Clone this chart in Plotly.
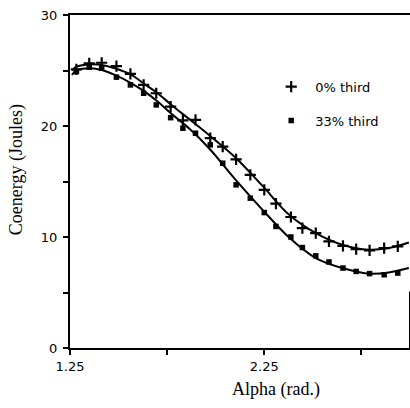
import plotly.graph_objects as go

# Measured points, 0% third (plus markers)
alpha_pts = [1.283, 1.349, 1.413, 1.489, 1.561, 1.629, 1.694, 1.768, 1.831, 1.896,
             1.972, 2.036, 2.105, 2.178, 2.250, 2.310, 2.387, 2.446, 2.515, 2.583,
             2.655, 2.723, 2.792, 2.867, 2.937]
coen_0 = [25.1, 25.65, 25.7, 25.4, 24.7, 23.7, 22.95, 21.75, 20.5, 20.55,
          18.9, 18.15, 17.0, 15.6, 14.25, 13.0, 11.8, 10.8, 10.35, 9.6,
          9.2, 8.9, 8.8, 9.0, 9.15]
# Measured points, 33% third (square markers)
coen_33 = [24.9, 25.3, 25.2, 24.4, 23.7, 22.95, 21.9, 20.75, 19.8, 19.35,
           18.3, 16.65, 14.7, 13.5, 12.2, 10.95, 10.0, 9.05, 8.3, 7.75,
           7.2, 6.9, 6.7, 6.6, 6.75]

# Fitted curves
alpha_fit = [1.260, 1.284, 1.355, 1.413, 1.481, 1.566, 1.635, 1.701, 1.772, 1.865,
             1.968, 2.105, 2.241, 2.378, 2.515, 2.652, 2.788, 2.891, 2.994]
fit_0 = [25.0, 25.35, 25.55, 25.5, 25.2, 24.6, 23.75, 22.95, 21.9, 20.6,
         19.15, 17.1, 14.6, 12.0, 10.35, 9.3, 8.85, 9.0, 9.5]
fit_33 = [24.6, 25.0, 25.2, 25.05, 24.6, 23.85, 23.1, 22.2, 21.1, 19.75,
          17.95, 15.1, 12.45, 9.95, 8.1, 7.2, 6.7, 6.8, 7.2]

x_tickvals = [1.25, 1.75, 2.25, 2.75]
x_ticktext = ["1.25", "", "2.25", ""]
y_tickvals = [0, 5, 10, 15, 20, 25, 30]
y_ticktext = ["0", "", "10", "", "20", "", "30"]

fig = go.Figure()
fig.add_trace(go.Scatter(x=alpha_fit, y=fit_0, mode="lines", line=dict(color="black", width=2, shape="spline"),
                         showlegend=False, hoverinfo="skip"))
fig.add_trace(go.Scatter(x=alpha_fit, y=fit_33, mode="lines", line=dict(color="black", width=2, shape="spline"),
                         showlegend=False, hoverinfo="skip"))
fig.add_trace(go.Scatter(x=alpha_pts, y=coen_0, mode="markers", name="0% third", legendgroup="a",
                         marker=dict(symbol="cross-thin", size=8, line=dict(color="black", width=2.2), color="black")))
fig.add_trace(go.Scatter(x=alpha_pts, y=coen_33, mode="markers", name="33% third", legendgroup="b",
                         marker=dict(symbol="square", size=5.5, color="black")))

axis_common = dict(showline=True, linecolor="black", linewidth=2, ticks="outside", ticklen=5,
                   tickwidth=2, tickcolor="black", showgrid=False, zeroline=False,
                   tickfont=dict(family="DejaVu Sans", size=13, color="black"))

fig.update_xaxes(range=[1.25, 3.0], tickvals=x_tickvals, ticktext=x_ticktext, mirror=True, **axis_common)
fig.update_yaxes(range=[0, 30], tickvals=y_tickvals, ticktext=y_ticktext, ticklabelstandoff=3, **axis_common)

fig.add_shape(type="line", xref="paper", yref="paper", x0=1, x1=1, y0=0, y1=0.17,
              line=dict(color="black", width=2))

fig.add_annotation(text="Coenergy (Joules)", xref="paper", yref="paper", x=-0.155, y=0.535,
                   xanchor="center", yanchor="middle", textangle=-90, showarrow=False,
                   font=dict(family="Liberation Serif, Times New Roman", size=18, color="black"))
fig.add_annotation(text="Alpha (rad.)", xref="paper", yref="paper", x=0.606, y=-0.125,
                   xanchor="center", yanchor="middle", showarrow=False,
                   font=dict(family="Liberation Serif, Times New Roman", size=18, color="black"))

fig.update_layout(
    width=410, height=408,
    margin=dict(l=70, r=0, t=15, b=60),
    plot_bgcolor="white", paper_bgcolor="white",
    legend=dict(x=0.58, y=0.83, xanchor="left", yanchor="top", tracegroupgap=14, itemwidth=38,
                font=dict(family="DejaVu Sans", size=13, color="black"),
                bgcolor="rgba(0,0,0,0)"),
)

fig.write_html("out.html")
